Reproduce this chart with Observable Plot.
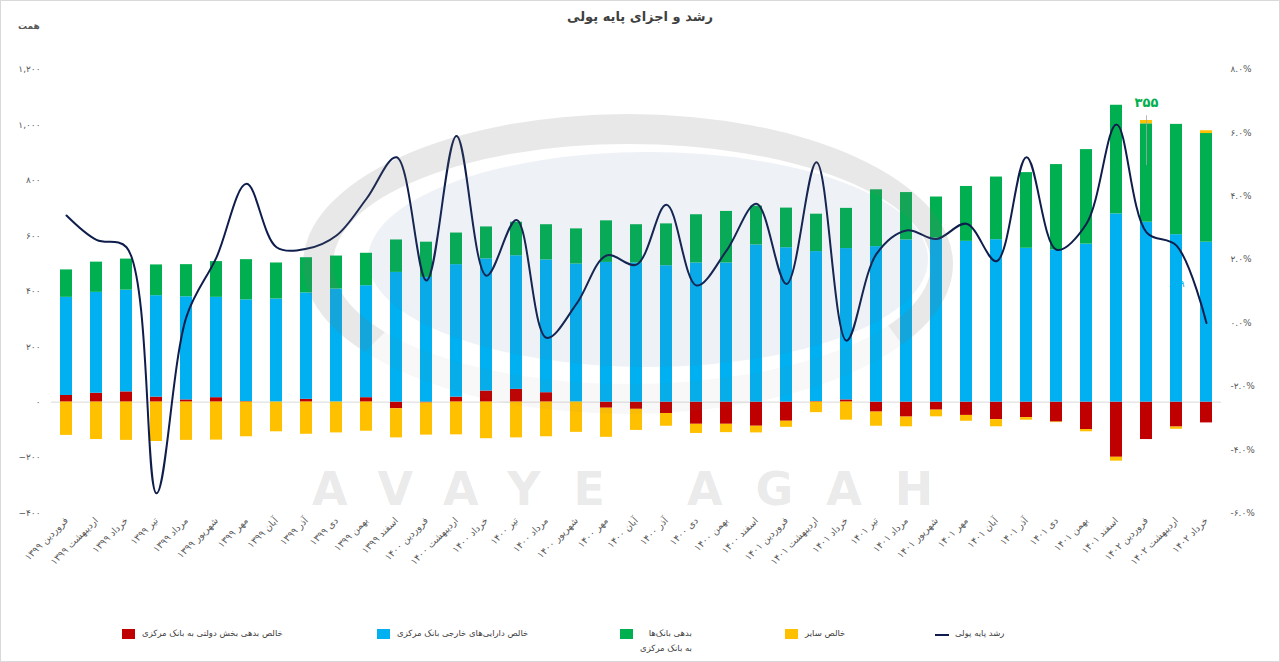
<!DOCTYPE html>
<html><head><meta charset="utf-8">
<script src="https://cdn.jsdelivr.net/npm/d3@7"></script>
<script src="https://cdn.jsdelivr.net/npm/@observablehq/plot@0.6"></script>
<style>
body{margin:0;background:#fff;}
#wrap{position:relative;width:1280px;height:662px;overflow:hidden;font-family:"DejaVu Sans",sans-serif;background:#fff;}
#frame{position:absolute;left:0;top:0;width:1280px;height:662px;box-sizing:border-box;border:1px solid #d9d9d9;pointer-events:none;}
#chart{position:absolute;left:0;top:0;}
#title{position:absolute;top:9px;left:0;width:1280px;text-align:center;font-size:13px;font-weight:bold;color:#404040;direction:rtl;}
#unit{position:absolute;top:21px;left:18px;font-size:9px;font-weight:bold;color:#595959;direction:rtl;}
.wm{position:absolute;pointer-events:none;}
#ring{left:303px;top:114px;width:650px;height:300px;border:30px solid rgba(120,120,120,0.17);border-radius:50%;box-sizing:border-box;border-bottom-color:rgba(120,120,120,0.05);border-right-width:22px;}
#inner{left:368px;top:152px;width:560px;height:215px;background:rgba(90,115,160,0.10);border-radius:50%;}
#wmtext{left:312px;top:462px;font-size:46px;font-weight:bold;letter-spacing:33px;color:rgba(130,130,130,0.18);font-family:"DejaVu Sans",sans-serif;}
.lg{position:absolute;top:628px;font-size:8.5px;color:#404040;display:flex;align-items:flex-start;}
.sw{width:13px;height:10px;margin-right:7px;margin-top:1px;flex:none;}
.ln{width:14px;height:2px;background:#0e1d4b;margin-right:6px;margin-top:6px;flex:none;}
.tx{direction:rtl;text-align:right;line-height:15px;margin-top:-2px;}
</style></head><body>
<div id="wrap">
<div id="chart"></div>
<div class="wm" id="inner"></div>
<div class="wm" id="ring"></div>
<div class="wm" id="wmtext">AVAYE AGAH</div>
<div id="title">رشد و اجزای پایه پولی</div>
<div id="unit">همت</div>
<div class="lg" style="left:122px"><div class="sw" style="background:#c00000"></div><div class="tx">خالص بدهی بخش دولتی به بانک مرکزی</div></div>
<div class="lg" style="left:377px"><div class="sw" style="background:#00b0f0"></div><div class="tx">خالص دارایی‌های خارجی بانک مرکزی</div></div>
<div class="lg" style="left:620px"><div class="sw" style="background:#00b050"></div><div class="tx">بدهی بانک‌ها<br>به بانک مرکزی</div></div>
<div class="lg" style="left:785px"><div class="sw" style="background:#ffc000"></div><div class="tx">خالص سایر</div></div>
<div class="lg" style="left:935px"><div class="ln"></div><div class="tx">رشد پایه پولی</div></div>
<div id="frame"></div>
</div>
<script>
const labels = [
 "فروردین ۱۳۹۹","اردیبهشت ۱۳۹۹","خرداد ۱۳۹۹","تیر ۱۳۹۹","مرداد ۱۳۹۹","شهریور ۱۳۹۹","مهر ۱۳۹۹","آبان ۱۳۹۹","آذر ۱۳۹۹","دی ۱۳۹۹","بهمن ۱۳۹۹","اسفند ۱۳۹۹",
 "فروردین ۱۴۰۰","اردیبهشت ۱۴۰۰","خرداد ۱۴۰۰","تیر ۱۴۰۰","مرداد ۱۴۰۰","شهریور ۱۴۰۰","مهر ۱۴۰۰","آبان ۱۴۰۰","آذر ۱۴۰۰","دی ۱۴۰۰","بهمن ۱۴۰۰","اسفند ۱۴۰۰",
 "فروردین ۱۴۰۱","اردیبهشت ۱۴۰۱","خرداد ۱۴۰۱","تیر ۱۴۰۱","مرداد ۱۴۰۱","شهریور ۱۴۰۱","مهر ۱۴۰۱","آبان ۱۴۰۱","آذر ۱۴۰۱","دی ۱۴۰۱","بهمن ۱۴۰۱","اسفند ۱۴۰۱",
 "فروردین ۱۴۰۲","اردیبهشت ۱۴۰۲","خرداد ۱۴۰۲"
];
// خالص بدهی بخش دولتی به بانک مرکزی
const gov = [24,32,37,18,8,16,2,0,10,0,16,-24,-3,18,40,46,34,0,-22,-26,-41,-80,-80,-87,-69,2,8,-36,-54,-29,-48,-63,-56,-72,-99,-199,-135,-90,-75];
// خالص دارایی‌های خارجی بانک مرکزی
const foreign = [354,364,367,366,372,362,367,372,384,408,404,468,450,478,477,482,479,498,504,502,492,502,502,567,557,541,546,561,585,592,580,586,555,549,570,679,649,604,577];
// بدهی بانک‌ها به بانک مرکزی
const bank = [99,109,112,111,116,129,145,130,127,119,117,117,127,114,115,121,127,127,150,138,151,174,186,140,143,135,145,205,171,148,198,226,273,308,341,392,355,398,392];
// خالص سایر
const other = [-120,-135,-138,-142,-138,-137,-125,-107,-116,-111,-105,-105,-116,-118,-132,-129,-125,-109,-105,-76,-46,-33,-30,-24,-22,-38,-65,-51,-35,-24,-21,-26,-9,-2,-8,-14,12,-8,10];
// رشد پایه پولی (%)
const growth = [3.39,2.62,2.39,-5.38,0.2,2.07,4.39,2.39,2.34,2.76,3.92,5.23,1.34,5.9,1.49,3.25,-0.47,0.6,2.13,1.84,3.73,1.18,2.28,3.76,1.23,5.07,-0.56,2.18,2.92,2.65,3.13,1.95,5.23,2.31,3.13,6.26,2.86,2.44,0.0];
const leftTicks = [-400,-200,0,200,400,600,800,1000,1200];
const pctTicks = [-6,-4,-2,0,2,4,6,8];
const seriesKeys = ["gov","foreign","bank","other"];
const seriesColors = ["#c00000","#00b0f0","#00b050","#ffc000"];
const notes = [
 {m:"فروردین ۱۴۰۲", y:1080, text:"۳۵۵", color:"#00b050"},
 {m:"اردیبهشت ۱۴۰۲", y:428, text:"۶۴۹", color:"#00b0f0"}
];

const fa = s => String(s).replace(/[0-9]/g, d => "۰۱۲۳۴۵۶۷۸۹"[d]);
const pctToLeft = p => -400 + (p + 6) * (1600 / 14);
const leftToPct = v => (v + 400) * 14 / 1600 - 6;

const rows = [];
const series = {gov, foreign, bank, other};
labels.forEach((m, i) => {
  for (const k of seriesKeys) rows.push({m, k, v: series[k][i]});
});
const lineData = labels.map((m, i) => ({m, g: growth[i]}));

const chart = Plot.plot({
  width: 1280,
  height: 600,
  marginLeft: 51,
  marginRight: 59,
  marginTop: 69,
  marginBottom: 87.5,
  style: {fontFamily: "DejaVu Sans, sans-serif", background: "transparent", color: "#595959"},
  x: {domain: labels, paddingInner: 0.6, paddingOuter: 0.3, axis: null},
  y: {domain: [-400, 1200], axis: null},
  color: {domain: seriesKeys, range: seriesColors},
  marks: [
    Plot.ruleY([0], {stroke: "#d9d9d9", strokeWidth: 1}),
    Plot.text(notes.slice(1), {x: "m", y: "y", text: "text", fill: "color", fontSize: 10}),
    Plot.barY(rows, {x: "m", y: "v", fill: "k"}),
    Plot.line(lineData, {x: "m", y: d => pctToLeft(d.g), stroke: "#0e1d4b", strokeWidth: 2, curve: "catmull-rom"}),
    Plot.link(notes.slice(0,1), {x1: "m", x2: "m", y1: d => d.y - 45, y2: d => d.y - 225, stroke: "#a6a6a6", strokeWidth: 0.8}),
    Plot.text(notes.slice(0,1), {x: "m", y: "y", text: "text", fill: "color", fontSize: 13, fontWeight: "bold"}),
    Plot.axisY(leftTicks, {anchor: "left", tickSize: 0, tickPadding: 11, fontSize: 9, label: null, tickFormat: d => fa(d3.format(",")(d))}),
    Plot.axisY(pctTicks.map(pctToLeft), {anchor: "right", tickSize: 0, tickPadding: 9, fontSize: 9, label: null,
      tickFormat: v => fa(leftToPct(v).toFixed(1)) + "%", textAnchor: "start"}),
    Plot.axisX({tickRotate: -45, tickSize: 0, tickPadding: 6, fontSize: 9.5, label: null})
  ]
});
document.getElementById("chart").appendChild(chart);
</script>
</body></html>
